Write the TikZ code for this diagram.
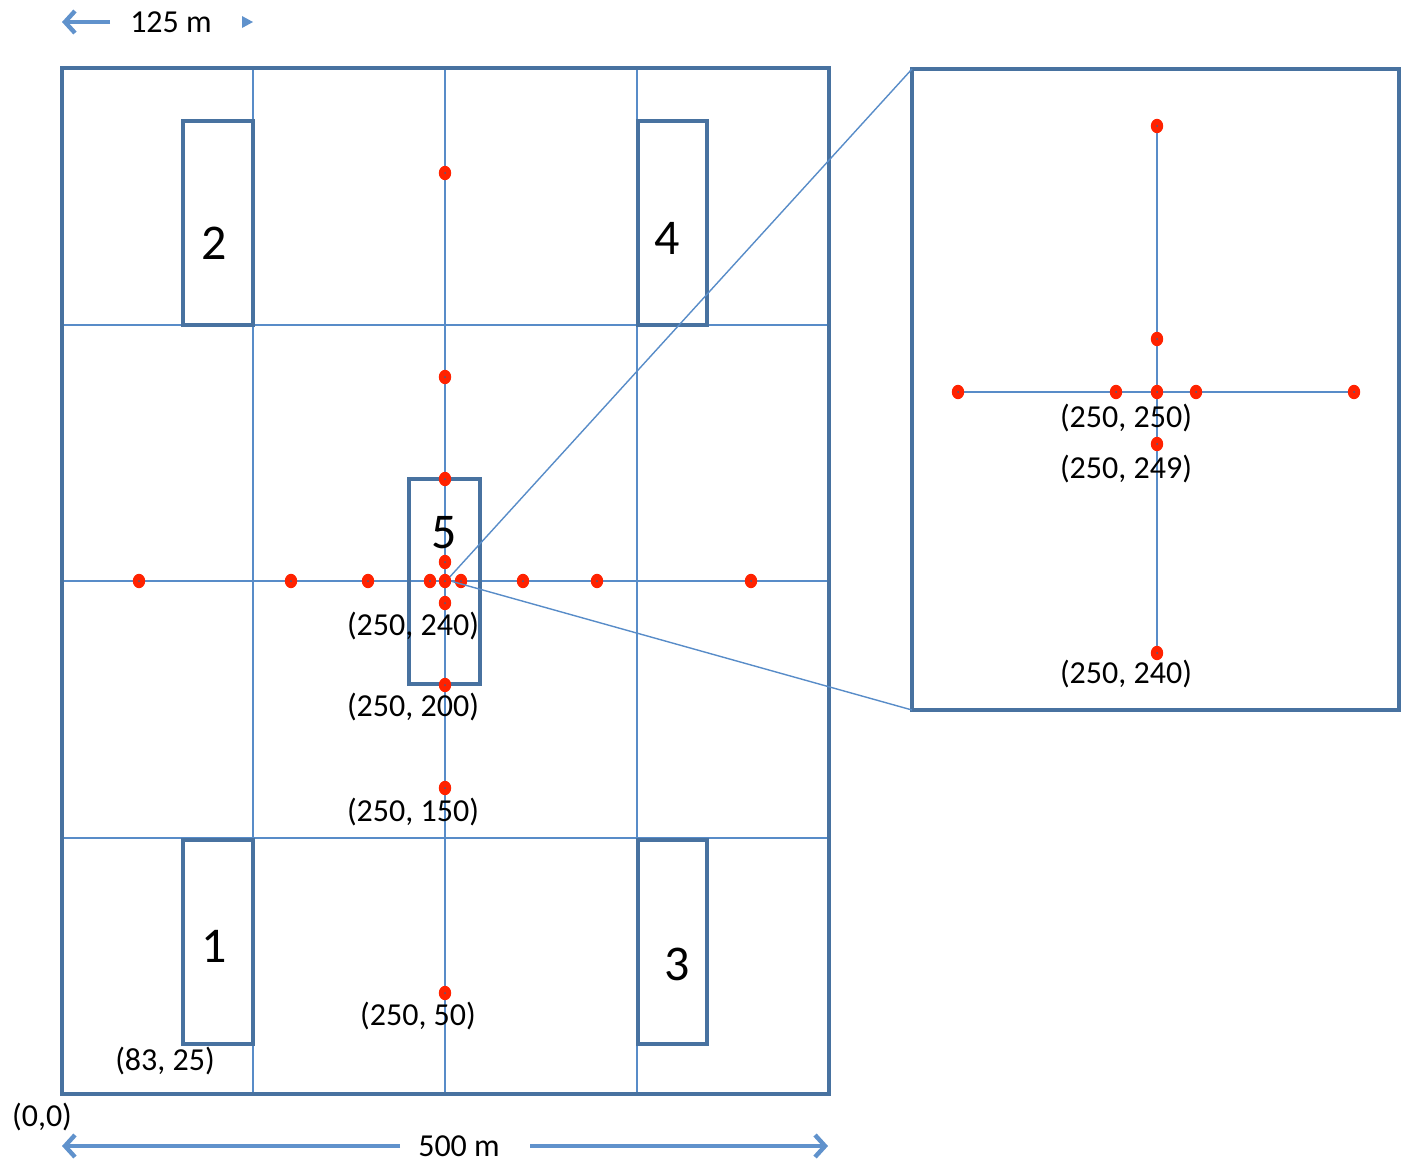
\documentclass[tikz,border=0pt]{standalone}
\usepackage{fontspec}
\setmainfont{Carlito}
\usetikzlibrary{arrows.meta,shapes.geometric}
\definecolor{frameblue}{RGB}{72,114,160}
\definecolor{gridblue}{RGB}{88,140,200}
\definecolor{arrblue}{RGB}{96,146,204}
\definecolor{dotred}{RGB}{255,34,0}
\tikzset{
  frame/.style={draw=frameblue,line width=2pt},
  gridline/.style={draw=gridblue,line width=0.7pt},
  pt/.style={ellipse,fill=dotred,minimum width=6.2pt,minimum height=7.2pt,inner sep=0pt,
    path picture={\fill[gridblue!70!black] (path picture bounding box.center) circle (0.5pt);}},
  lab/.style={font=\fontsize{16}{18}\selectfont,inner sep=0pt},
  big/.style={font=\fontsize{25}{28}\selectfont,inner sep=0pt},
  dimarrow/.style={draw=arrblue,line width=2.2pt},
}
\begin{document}
\begin{tikzpicture}[x=0.5pt,y=-0.5pt]
\useasboundingbox (0,0) rectangle (1402,1162);
% grid
\coordinate (gv1t) at (253,68); \coordinate (gv1b) at (253,1094);
\coordinate (gv2t) at (445,68); \coordinate (gv2b) at (445,1094);
\coordinate (gv3t) at (637,68); \coordinate (gv3b) at (637,1094);
\coordinate (gh1l) at (62,325); \coordinate (gh1r) at (829,325);
\coordinate (gh2l) at (62,581); \coordinate (gh2r) at (829,581);
\coordinate (gh3l) at (62,838); \coordinate (gh3r) at (829,838);
\draw[gridline] (gv1t)--(gv1b) (gv2t)--(gv2b) (gv3t)--(gv3b)
  (gh1l)--(gh1r) (gh2l)--(gh2r) (gh3l)--(gh3r);
% main frame
\draw[frame] (62,68) rectangle (829,1094);
% buildings
\draw[frame] (183,121) rectangle (253,325);
\draw[frame] (638,121) rectangle (707,325);
\draw[frame] (183,840) rectangle (253,1044);
\draw[frame] (638,840) rectangle (707,1044);
\draw[frame] (409,479) rectangle (480,684);
\node[big] (n2) at (214,243) {2};
\node[big] (n4) at (667,238) {4};
\node[big] (n1) at (214,946) {1};
\node[big] (n3) at (677,964) {3};
\node[big] (n5) at (444,533) {5};
% inset
\coordinate (insetnw) at (912,69);
\coordinate (insetsw) at (912,710);
\coordinate (insetse) at (1399,710);
\draw[frame] (insetnw) rectangle (insetse);
\coordinate (ivt) at (1157,126); \coordinate (ivb) at (1157,653);
\coordinate (ihl) at (958,392); \coordinate (ihr) at (1354,392);
\draw[gridline] (ivt)--(ivb) (ihl)--(ihr);
% points main
\foreach \y [count=\i] in {173,377,479,562,603,685,788,993}
  \node[pt] (v\i) at (445,\y) {};
\foreach \x [count=\i] in {139,291,368,430,461,523,597,751}
  \node[pt] (h\i) at (\x,581) {};
% zoom lines
\coordinate (zc) at (447,580);
\draw[gridline] (zc)--(insetnw) (zc)--(insetsw);
\node[pt] (c0) at (445,581) {};
% points inset
\foreach \y [count=\i] in {126,339,444,653}
  \node[pt] (iv\i) at (1157,\y) {};
\foreach \x [count=\i] in {958,1116,1157,1196,1354}
  \node[pt] (ih\i) at (\x,392) {};
% labels
\node[lab] (l240) at (413,626) {(250, 240)};
\node[lab] (l200) at (413,707) {(250, 200)};
\node[lab] (l150) at (413,812) {(250, 150)};
\node[lab] (l50) at (418,1016) {(250, 50)};
\node[lab] (l83) at (165,1061) {(83, 25)};
\node[lab] (l00) at (42,1117) {(0,0)};
\node[lab] (i250) at (1126,418) {(250, 250)};
\node[lab] (i249) at (1126,469) {(250, 249)};
\node[lab] (i240) at (1126,674) {(250, 240)};
% dimension arrows
\node[lab] (d125) at (171,22) {125 m};
\coordinate (a1s) at (110,22); \coordinate (a1e) at (62,22);
\draw[dimarrow,-{Straight Barb[length=5pt,width=11pt]}] (a1s)--(a1e);
\fill[arrblue] (242,16)--(253,22)--(242,28)--cycle;
\node[lab] (d500) at (459,1146) {500 m};
\coordinate (a2s) at (400,1146); \coordinate (a2e) at (62,1146);
\coordinate (a3s) at (530,1146); \coordinate (a3e) at (828,1146);
\draw[dimarrow,-{Straight Barb[length=5pt,width=11pt]}] (a2s)--(a2e);
\draw[dimarrow,-{Straight Barb[length=5pt,width=11pt]}] (a3s)--(a3e);
\end{tikzpicture}
\end{document}
